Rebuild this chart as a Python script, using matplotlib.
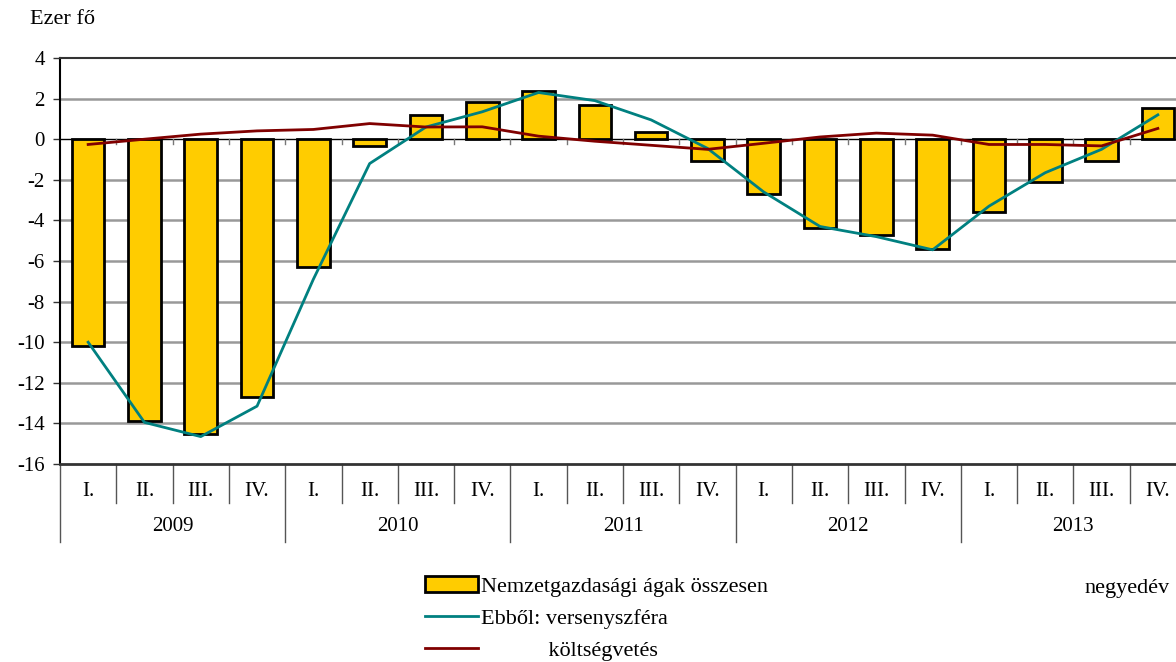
import matplotlib.pyplot as plt
import matplotlib.transforms as mtransforms
import numpy as np

plt.rcParams['font.family'] = ['Liberation Serif', 'DejaVu Serif']

years = ['2009', '2010', '2011', '2012', '2013']
quarters = ['I.', 'II.', 'III.', 'IV.']

# Nemzetgazdasági ágak összesen (oszlopok)
osszesen = [-10.2, -13.9, -14.5, -12.7,
            -6.3, -0.35, 1.2, 1.85,
            2.35, 1.7, 0.35, -1.05,
            -2.7, -4.35, -4.7, -5.4,
            -3.6, -2.1, -1.07, 1.55]
# Ebből: versenyszféra
verseny = [-10.0, -13.95, -14.65, -13.15,
           -6.9, -1.2, 0.6, 1.35,
           2.3, 1.9, 0.95, -0.45,
           -2.6, -4.3, -4.8, -5.45,
           -3.3, -1.65, -0.5, 1.2]
# költségvetés
koltseg = [-0.26, 0.0, 0.25, 0.41,
           0.48, 0.77, 0.6, 0.61,
           0.15, -0.1, -0.3, -0.5,
           -0.2, 0.11, 0.3, 0.2,
           -0.26, -0.26, -0.33, 0.53]

yticks = list(range(-16, 5, 2))

fig = plt.figure(figsize=(11.76, 6.62), dpi=100)
ax = fig.add_axes([60 / 1176, 1 - 464 / 662, 1126 / 1176, 406 / 662])

x = np.arange(len(osszesen))
b1 = ax.bar(x, osszesen, width=0.58, color='#FFCC00', edgecolor='black', linewidth=2, zorder=3)
l1, = ax.plot(x, verseny, color='#008080', lw=2, zorder=4)
l2, = ax.plot(x, koltseg, color='#800000', lw=2, zorder=5)

ax.set_xlim(-0.5, len(x) - 0.5)
ax.set_ylim(-16, 4)
ax.set_yticks(yticks)
ax.set_yticklabels([str(v) for v in yticks], fontsize=15)
ax.tick_params(axis='y', length=5, width=1, color='#333333', pad=6)

for v in yticks[1:-1]:
    if v != 0:
        ax.axhline(v, color='#999999', lw=1.8, zorder=1)
ax.axhline(0, color='black', lw=1, zorder=2)
# kis osztásjelek a nulla vonalon
for b in np.arange(0.5, len(x) - 0.5, 1):
    ax.plot([b, b], [0, -0.25], color='#777777', lw=1, zorder=2)

ax.spines['right'].set_visible(False)
ax.spines['left'].set_color('black')
ax.spines['left'].set_linewidth(1.5)
ax.spines['top'].set_color('#333333')
ax.spines['top'].set_linewidth(1.5)
ax.spines['bottom'].set_color('#333333')
ax.spines['bottom'].set_linewidth(2)

# kétszintű kategória tengely
ax.set_xticks(x)
ax.set_xticklabels(quarters * len(years), fontsize=15)
ax.tick_params(axis='x', length=0, pad=13)
trans = mtransforms.blended_transform_factory(ax.transData, ax.transAxes)
for i in range(len(x) + 1):
    b = i - 0.5
    if i % 4 == 0:
        ax.plot([b, b], [0, -0.192], transform=trans, color='#555555', lw=1, clip_on=False)
    else:
        ax.plot([b, b], [0, -0.096], transform=trans, color='#555555', lw=1, clip_on=False)
for k, yr in enumerate(years):
    ax.text(4 * k + 1.5, -0.155, yr, transform=trans, ha='center', va='center', fontsize=15)

fig.text(30 / 1176, 1 - 20 / 662, 'Ezer fő', fontsize=16, va='center', ha='left')
fig.text(1170 / 1176, 1 - 588 / 662, 'negyedév', fontsize=16, va='center', ha='right')

fig.legend([b1, l1, l2],
           ['Nemzetgazdasági ágak összesen', 'Ebből: versenyszféra', '            költségvetés'],
           loc='upper left', bbox_to_anchor=(425 / 1176, 1 - 576 / 662), frameon=False,
           fontsize=16, handlelength=2.4, handletextpad=0.1, labelspacing=0.52,
           borderpad=0, borderaxespad=0)

fig.savefig('out.png', dpi=100)
